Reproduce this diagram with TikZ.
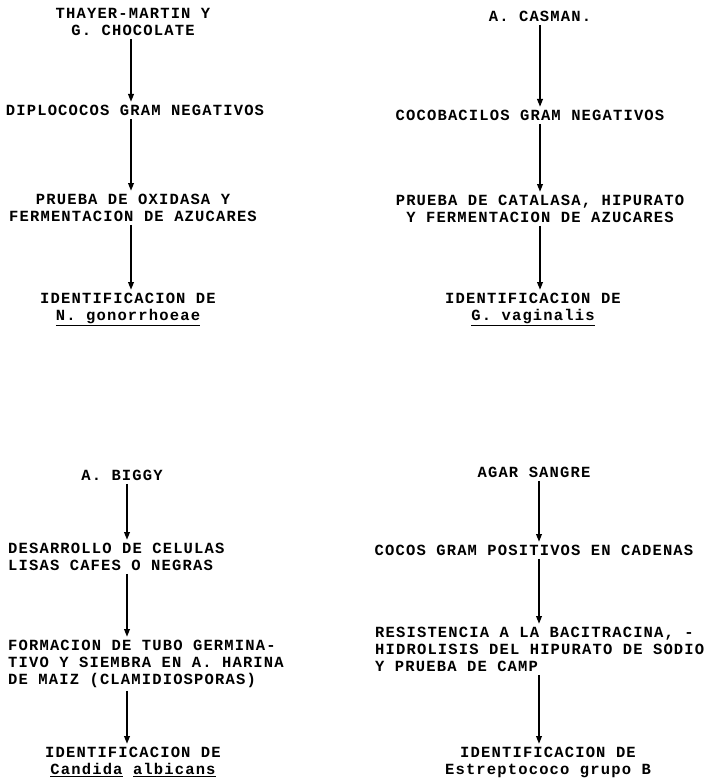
\documentclass[tikz,border=0pt]{standalone}
\usepackage{fontspec}
\setmonofont[LetterSpace=7.5]{Liberation Mono}
\usetikzlibrary{arrows.meta,positioning}
\tikzset{
  paso/.style={font=\fontsize{15.5}{17}\selectfont\ttfamily\bfseries,
               inner sep=0pt, align=center, anchor=north},
  pasol/.style={paso, align=left, anchor=north west},
  flecha/.style={-{Triangle[length=8pt,width=5.5pt]}, line width=2pt,
                 shorten <=3pt, shorten >=3pt},
}

\begin{document}
\begin{tikzpicture}[x=1pt, y=-1pt]
  \useasboundingbox (0,0) rectangle (709,781);
  % Arrow columns
  \coordinate (colTL) at (131,0);
  \coordinate (colTR) at (540,0);
  \coordinate (colBL) at (127,0);
  \coordinate (colBR) at (539,0);

  % Neisseria
  \node[paso] (tm) at (133,8) {THAYER-MARTIN Y\\G. CHOCOLATE};
  \node[paso] (dip) at (135,105) {DIPLOCOCOS GRAM NEGATIVOS};
  \node[paso] (oxi) at (133,194) {PRUEBA DE OXIDASA Y\\FERMENTACION DE AZUCARES};
  \node[paso] (idN) at (128,293) {IDENTIFICACION DE\\\underline{N. gonorrhoeae}};

  % Gardnerella
  \node[paso] (cas) at (540,11) {A. CASMAN.};
  \node[paso] (coco) at (530,110) {COCOBACILOS GRAM NEGATIVOS};
  \node[paso] (cat) at (540,195) {PRUEBA DE CATALASA, HIPURATO\\Y FERMENTACION DE AZUCARES};
  \node[paso] (idG) at (533,293) {IDENTIFICACION DE\\\underline{G. vaginalis}};

  % Candida
  \node[paso] (big) at (122,470) {A. BIGGY};
  \node[pasol] (des) at (8,543) {DESARROLLO DE CELULAS\\LISAS CAFES O NEGRAS};
  \node[pasol] (tubo) at (8,640) {FORMACION DE TUBO GERMINA-\\TIVO Y SIEMBRA EN A. HARINA\\DE MAIZ (CLAMIDIOSPORAS)};
  \node[paso] (idC) at (133,747) {IDENTIFICACION DE\\\underline{Candida} \underline{albicans}};

  % Estreptococo
  \node[paso] (agar) at (534,467) {AGAR SANGRE};
  \node[paso] (cocos) at (534,545) {COCOS GRAM POSITIVOS EN CADENAS};
  \node[pasol] (res) at (375,627) {RESISTENCIA A LA BACITRACINA, -\\HIDROLISIS DEL HIPURATO DE SODIO\\Y PRUEBA DE CAMP};
  \node[paso] (idE) at (548,747) {IDENTIFICACION DE\\Estreptococo grupo B};

  % Arrows
  \draw[flecha] (tm.south -| colTL) -- (dip.north -| colTL);
  \draw[flecha] (dip.south -| colTL) -- (oxi.north -| colTL);
  \draw[flecha] (oxi.south -| colTL) -- (idN.north -| colTL);
  \draw[flecha] (cas.south -| colTR) -- (coco.north -| colTR);
  \draw[flecha] (coco.south -| colTR) -- (cat.north -| colTR);
  \draw[flecha] (cat.south -| colTR) -- (idG.north -| colTR);
  \draw[flecha] (big.south -| colBL) -- (des.north -| colBL);
  \draw[flecha] (des.south -| colBL) -- (tubo.north -| colBL);
  \draw[flecha] (tubo.south -| colBL) -- (idC.north -| colBL);
  \draw[flecha] (agar.south -| colBR) -- (cocos.north -| colBR);
  \draw[flecha] (cocos.south -| colBR) -- (res.north -| colBR);
  \draw[flecha] (res.south -| colBR) -- (idE.north -| colBR);
\end{tikzpicture}
\end{document}
